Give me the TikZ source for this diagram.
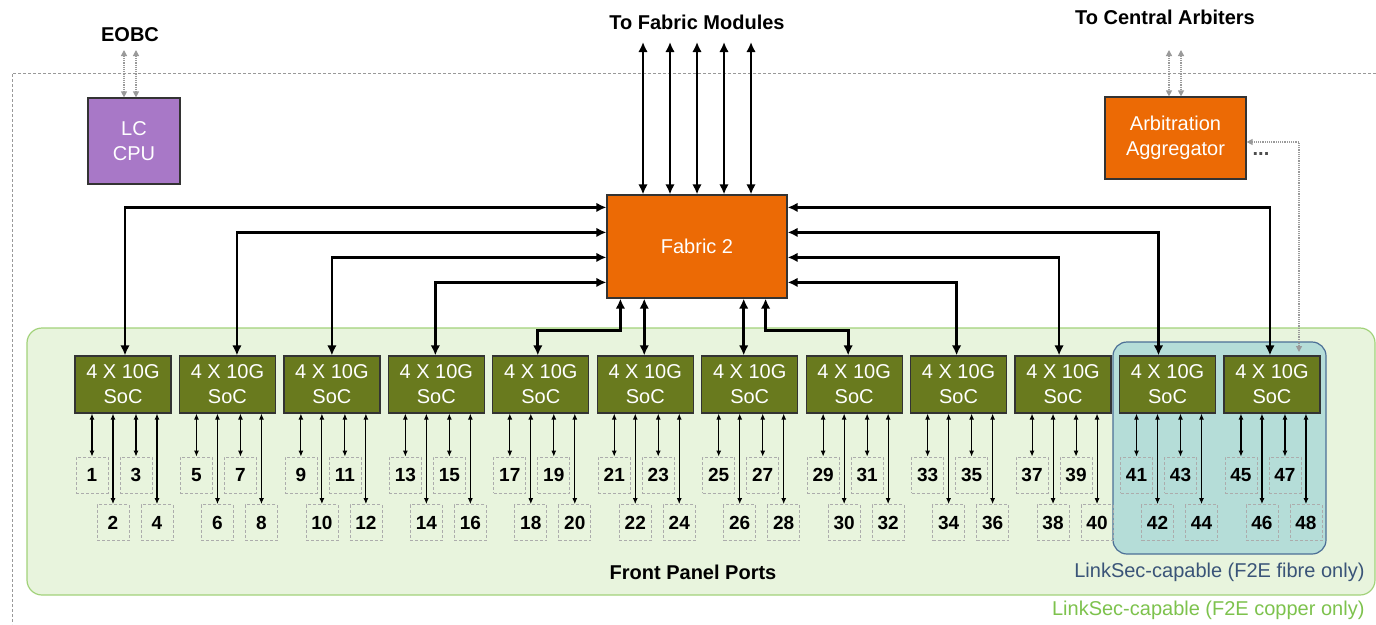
\documentclass[tikz,border=0pt]{standalone}
\usepackage{fontspec}
\setmainfont{Liberation Sans}
\usetikzlibrary{arrows.meta,calc}
\definecolor{cpuPurple}{HTML}{A878C7}
\definecolor{fabOrange}{HTML}{EC6A05}
\definecolor{socGreen}{HTML}{697A1E}
\definecolor{panelFill}{HTML}{E8F4DD}
\definecolor{panelLine}{HTML}{A2D27A}
\definecolor{blueFill}{HTML}{B5DDD8}
\definecolor{blueLine}{HTML}{4C6F96}
\definecolor{fibreText}{HTML}{3A5478}
\definecolor{copperText}{HTML}{7DC24D}
\definecolor{dotGray}{HTML}{9A9A9A}
\begin{document}
\begin{tikzpicture}[x=1pt,y=-1pt,
  font=\fontsize{20}{25}\selectfont,
  blk/.style={draw=black!80, line width=1.2pt, text=white, align=center, inner sep=0pt},
  cpubox/.style={blk, fill=cpuPurple, minimum width=92pt, minimum height=86pt},
  fabbox/.style={blk, fill=fabOrange, minimum width=180pt, minimum height=103pt},
  aggbox/.style={blk, fill=fabOrange, minimum width=141pt, minimum height=82pt},
  socbox/.style={blk, fill=socGreen, minimum width=96pt, minimum height=57pt},
  portbox/.style={draw=gray!65, densely dashed, line width=0.8pt, minimum width=32pt, minimum height=36pt, inner sep=0pt, font=\fontsize{19}{19}\selectfont\bfseries},
  big/.style={line width=2.8pt, {Latex[length=10pt,width=9.5pt]}-{Latex[length=10pt,width=9.5pt]}},
  portarrow/.style={line width=1.1pt, {Latex[length=6pt,width=5pt]}-{Latex[length=6pt,width=5pt]}},
  gdot/.style={draw=dotGray, line width=1.2pt, densely dotted, {Triangle[length=6pt,width=6pt,fill=dotGray]}-{Triangle[length=6pt,width=6pt,fill=dotGray]}},
  ttl/.style={font=\fontsize{20}{24}\selectfont\bfseries}
]
\useasboundingbox (0,0) rectangle (1376,624);
% outer dashed frame
\draw[gray!80, densely dashed, line width=0.8pt] (1376,73) -- (12,73) -- (12,624);
% panels
\draw[panelLine, fill=panelFill, line width=1.2pt, rounded corners=15pt] (27,328) rectangle (1375,595);
\draw[blueLine, fill=blueFill, line width=1.2pt, rounded corners=14pt] (1113,342) rectangle (1326,554);
% titles
\node[ttl] (eobc) at (130,35) {EOBC};
\node[ttl] (tofab) at (697,22) {To Fabric Modules};
\node[ttl] (toarb) at (1165,17) {To Central Arbiters};
\node[ttl] (fpp) at (693,572) {Front Panel Ports};
\node[text=fibreText, anchor=east] (fibre) at (1368,572) {LinkSec-capable (F2E fibre only)};
\node[text=copperText, anchor=east] (copper) at (1368,610) {LinkSec-capable (F2E copper only)};
% main blocks
\node[cpubox] (cpu) at (134,141) {LC\\CPU};
\node[fabbox] (fab) at (697,246.5) {Fabric 2};
\node[aggbox] (agg) at (1175.5,138) {Arbitration\\Aggregator};
\node[text=black!70, anchor=base, font=\fontsize{20}{24}\selectfont\bfseries] (dots) at (1261,155.5) {...};
% SoCs and ports
\foreach \i in {0,...,11}{
  \pgfmathsetmacro{\L}{75+104.45*\i}
  \pgfmathtruncatemacro{\n}{\i+1}
  \pgfmathtruncatemacro{\pa}{4*\i+1}
  \pgfmathtruncatemacro{\pb}{4*\i+2}
  \pgfmathtruncatemacro{\pc}{4*\i+3}
  \pgfmathtruncatemacro{\pd}{4*\i+4}
  \node[socbox] (s\n) at (\L+48,384.5) {4 X 10G\\SoC};
  \node[portbox] (p\pa) at (\L+17,475) {\pa};
  \node[portbox] (p\pc) at (\L+61,475) {\pc};
  \node[portbox] (p\pb) at (\L+38,522.5) {\pb};
  \node[portbox] (p\pd) at (\L+82,522.5) {\pd};
  \draw[portarrow] (p\pa.north) -- (p\pa.north |- s\n.south);
  \draw[portarrow] (p\pc.north) -- (p\pc.north |- s\n.south);
  \draw[portarrow] (p\pb.north) -- (p\pb.north |- s\n.south);
  \draw[portarrow] (p\pd.north) -- (p\pd.north |- s\n.south);
}
% SoC to fabric links
\draw[big] ([xshift=2pt]s1.north) |- ([yshift=-13pt]fab.north west);
\draw[big] ([xshift=9.5pt]s2.north) |- ([yshift=-38pt]fab.north west);
\draw[big] (s3.north) |- ([yshift=-63pt]fab.north west);
\draw[big] ([xshift=-1pt]s4.north) |- ([yshift=-88pt]fab.north west);
\draw[big] ([xshift=-3pt]s5.north) -- ++(0,-25) -| ([xshift=14pt]fab.south west);
\coordinate (c6) at ([xshift=-1pt]s6.north);
\coordinate (c7) at ([xshift=-6pt]s7.north);
\draw[big] (c6) -- (c6 |- fab.south);
\draw[big] (c7) -- (c7 |- fab.south);
\draw[big] ([xshift=-6pt]s8.north) -- ++(0,-25) -| ([xshift=-22pt]fab.south east);
\draw[big] ([xshift=-2pt]s9.north) |- ([yshift=-88pt]fab.north east);
\draw[big] ([xshift=-4pt]s10.north) |- ([yshift=-63pt]fab.north east);
\draw[big] ([xshift=-9pt]s11.north) |- ([yshift=-38pt]fab.north east);
\draw[big] ([xshift=-2pt]s12.north) |- ([yshift=-13pt]fab.north east);
% to fabric modules
\foreach \k/\xx in {1/643,2/670,3/697,4/724,5/751}{
  \coordinate (t\k) at (\xx,42);
  \draw[big] (t\k) -- (t\k |- fab.north);
}
% EOBC and arbiter links
\coordinate (e1) at (124,50);
\coordinate (e2) at (136,50);
\draw[gdot] (e1) -- (e1 |- cpu.north);
\draw[gdot] (e2) -- (e2 |- cpu.north);
\coordinate (a1) at (1169,50);
\coordinate (a2) at (1181,50);
\draw[gdot] (a1) -- (a1 |- agg.north);
\draw[gdot] (a2) -- (a2 |- agg.north);
\coordinate (fb) at (1299,352);
\draw[gdot] (fb) |- ([yshift=-4pt]agg.east);
\end{tikzpicture}
\end{document}
